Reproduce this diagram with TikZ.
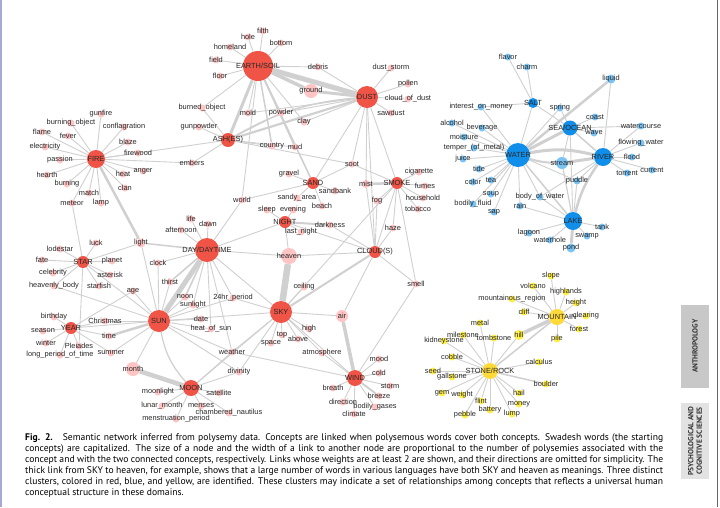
\documentclass[tikz,border=0pt]{standalone}
\usepackage{fontspec}
\setmainfont{Liberation Sans}
\newfontfamily\capfont{PT Sans}
\usepackage{xcolor}
\definecolor{hubred}{RGB}{240,84,70}
\definecolor{leafred}{RGB}{255,196,196}
\definecolor{hubblue}{RGB}{16,142,234}
\definecolor{leafblue}{RGB}{122,196,245}
\definecolor{hubyel}{RGB}{255,218,56}
\definecolor{leafyel}{RGB}{255,238,70}
\definecolor{linkgray}{RGB}{208,208,208}
\definecolor{labelgray}{RGB}{40,40,40}
\definecolor{tabdark}{RGB}{200,200,200}
\definecolor{tablight}{RGB}{226,226,226}
\definecolor{edgeline}{RGB}{168,168,214}
\usetikzlibrary{backgrounds}
\newcommand\nd[4]{\node[#1,label={[lbl]center:#4}] (#2) at (#3) {};}
\newcommand\capline[1]{\hbox to 638pt{#1}}

\begin{document}
\begin{tikzpicture}[x=1pt,y=-1pt,
  lbl/.style={font=\fontsize{7.4}{8}\selectfont,text=labelgray,inner sep=0pt},
  vtx/.style={circle,inner sep=0pt,minimum size=#1},
  rh/.style={vtx=#1,fill=hubred},   rh/.default=12,
  rl/.style={vtx=#1,fill=leafred},  rl/.default=7,
  bh/.style={vtx=#1,fill=hubblue},  bh/.default=12,
  bl/.style={vtx=#1,fill=leafblue}, bl/.default=7,
  yh/.style={vtx=#1,fill=hubyel},   yh/.default=16,
  yl/.style={vtx=#1,fill=leafyel},  yl/.default=7,
  link/.style={draw=linkgray,line width=0.9pt},
  capt/.style={inner sep=0pt,align=left,
               font=\capfont\fontsize{9.6}{11}\selectfont},
  tabbox/.style={rotate=90,inner sep=1pt,align=center,text=black!80,
                 font=\capfont\bfseries\fontsize{7.4}{8.4}\selectfont,
                 minimum height=28pt},
]
\useasboundingbox (0,0) rectangle (720,507);
\fill[edgeline] (0,0) rectangle (2,507);
\draw[black!60,line width=0.8pt] (717,0) -- (717,507);

%% red cluster: Swadesh concepts
\nd{rh=30}{earth}{258,66}{EARTH/SOIL}
\nd{rh=22}{dust}{367,97}{DUST}
\nd{rh=14}{ash}{228,140}{ASH(ES)}
\nd{rh=18}{fire}{96,159}{FIRE}
\nd{rh}{sand}{313,183}{SAND}
\nd{rh}{smoke}{397,183}{SMOKE}
\nd{rh}{night}{285,222}{NIGHT}
\nd{rh}{cloud}{375,252}{CLOUD(S)}
\nd{rh=24}{day}{207,250}{DAY/DAYTIME}
\nd{rh}{star}{83,262}{STAR}
\nd{rh=22}{sun}{159,321}{SUN}
\nd{rh}{year}{71,328}{YEAR}
\nd{rh=22}{sky}{281,312}{SKY}
\nd{rh=16}{moon}{191,388}{MOON}
\nd{rh=16}{wind}{355,378}{WIND}

%% red cluster: other concepts
\nd{rl}{filth}{263,31}{filth}
\nd{rl}{hole}{248,37}{hole}
\nd{rl}{bottom}{281,43}{bottom}
\nd{rl}{homeland}{230,47}{homeland}
\nd{rl}{field}{216,60}{field}
\nd{rl}{floor}{220,76}{floor}
\nd{rl}{debris}{318,67}{debris}
\nd{rl}{duststorm}{391,68}{dust\_storm}
\nd{rl}{pollen}{408,84}{pollen}
\nd{rl}{cloudofdust}{408,99}{cloud\_of\_dust}
\nd{rl}{sawdust}{391,113}{sawdust}
\nd{rl=14}{ground}{311,91}{ground}
\nd{rl}{mold}{248,113}{mold}
\nd{rl}{powder}{281,113}{powder}
\nd{rl}{clay}{304,122}{clay}
\nd{rl}{burnedobject}{202,108}{burned\_object}
\nd{rl}{gunpowder}{199,127}{gunpowder}
\nd{rl}{burningobject}{71,123}{burning\_object}
\nd{rl}{gunfire}{101,114}{gunfire}
\nd{rl}{conflagration}{124,127}{conflagration}
\nd{rl}{flame}{42,132}{flame}
\nd{rl}{fever}{68,136}{fever}
\nd{rl}{electricity}{45,147}{electricity}
\nd{rl}{blaze}{128,142}{blaze}
\nd{rl}{firewood}{138,153}{firewood}
\nd{rl}{passion}{60,160}{passion}
\nd{rl}{embers}{192,163}{embers}
\nd{rl}{hearth}{47,175}{hearth}
\nd{rl}{heat}{123,174}{heat}
\nd{rl}{anger}{143,171}{anger}
\nd{rl}{burning}{67,184}{burning}
\nd{rl}{clan}{125,188}{clan}
\nd{rl}{match}{89,193}{match}
\nd{rl}{meteor}{72,203}{meteor}
\nd{rl}{lamp}{101,203}{lamp}
\nd{rl}{country}{272,146}{country}
\nd{rl}{mud}{295,147}{mud}
\nd{rl}{soot}{352,164}{soot}
\nd{rl}{gravel}{289,174}{gravel}
\nd{rl}{sandbank}{335,191}{sandbank}
\nd{rl}{cigarette}{419,172}{cigarette}
\nd{rl}{fumes}{425,186}{fumes}
\nd{rl=8}{mist}{366,184}{mist}
\nd{rl}{household}{423,198}{household}
\nd{rl}{tobacco}{418,209}{tobacco}
\nd{rl}{fog}{377,201}{fog}
\nd{rl}{world}{242,200}{world}
\nd{rl}{sandyarea}{297,198}{sandy\_area}
\nd{rl}{beach}{322,206}{beach}
\nd{rl}{sleep}{267,210}{sleep}
\nd{rl}{evening}{293,210}{evening}
\nd{rl}{darkness}{330,225}{darkness}
\nd{rl}{lastnight}{301,232}{last\_night}
\nd{rl}{haze}{393,228}{haze}
\nd{rl=16}{heaven}{289,256}{heaven}
\nd{rl=9}{light}{141,243}{light}
\nd{rl}{life}{191,219}{life}
\nd{rl}{dawn}{208,224}{dawn}
\nd{rl}{afternoon}{181,230}{afternoon}
\nd{rl}{lodestar}{60,249}{lodestar}
\nd{rl}{luck}{96,243}{luck}
\nd{rl}{fate}{42,260}{fate}
\nd{rl}{planet}{112,261}{planet}
\nd{rl}{clock}{158,263}{clock}
\nd{rl}{celebrity}{53,273}{celebrity}
\nd{rl}{asterisk}{110,275}{asterisk}
\nd{rl}{heavenlybody}{54,286}{heavenly\_body}
\nd{rl}{starfish}{99,286}{starfish}
\nd{rl}{thirst}{170,282}{thirst}
\nd{rl}{age}{133,291}{age}
\nd{rl}{noon}{185,297}{noon}
\nd{rl}{sunlight}{193,305}{sunlight}
\nd{rl}{hrperiod}{233,298}{24hr\_period}
\nd{rl}{birthday}{54,317}{birthday}
\nd{rl}{christmas}{105,321}{Christmas}
\nd{rl}{date}{201,319}{date}
\nd{rl}{season}{43,331}{season}
\nd{rl}{heatofsun}{211,329}{heat\_of\_sun}
\nd{rl}{time}{109,336}{time}
\nd{rl}{winter}{46,343}{winter}
\nd{rl}{pleiades}{79,346}{Pleiades}
\nd{rl}{summer}{111,353}{summer}
\nd{rl}{longperiod}{60,355}{long\_period\_of\_time}
\nd{rl}{weather}{232,352}{weather}
\nd{rl=14}{month}{133,369}{month}
\nd{rl}{divinity}{239,372}{divinity}
\nd{rl}{moonlight}{158,392}{moonlight}
\nd{rl}{satellite}{219,393}{satellite}
\nd{rl}{lunarmonth}{162,406}{lunar\_month}
\nd{rl}{menses}{201,406}{menses}
\nd{rl}{nautilus}{229,413}{chambered\_nautilus}
\nd{rl}{menstruation}{176,419}{menstruation\_period}
\nd{rl}{ceiling}{304,287}{ceiling}
\nd{rl=12}{air}{342,316}{air}
\nd{rl}{smell}{416,284}{smell}
\nd{rl}{high}{309,329}{high}
\nd{rl}{top}{282,335}{top}
\nd{rl}{above}{298,339}{above}
\nd{rl}{space}{271,343}{space}
\nd{rl}{atmosphere}{322,353}{atmosphere}
\nd{rl}{mood}{379,359}{mood}
\nd{rl}{cold}{379,373}{cold}
\nd{rl}{storm}{390,386}{storm}
\nd{rl}{breath}{333,388}{breath}
\nd{rl}{breeze}{379,396}{breeze}
\nd{rl}{direction}{343,402}{direction}
\nd{rl}{bodilygases}{375,407}{bodily\_gases}
\nd{rl}{climate}{354,414}{climate}

%% blue cluster
\nd{bh=24}{water}{518,155}{WATER}
\nd{bh=15}{sea}{570,128}{SEA/OCEAN}
\nd{bh=18}{river}{603,157}{RIVER}
\nd{bh=18}{lake}{573,221}{LAKE}
\nd{bh=10}{salt}{533,103}{SALT}
\nd{bl}{flavor}{508,57}{flavor}
\nd{bl}{charm}{527,67}{charm}
\nd{bl=9}{liquid}{611,79}{liquid}
\nd{bl}{interest}{481,107}{interest\_on\_money}
\nd{bl}{spring}{560,108}{spring}
\nd{bl}{coast}{595,117}{coast}
\nd{bl}{alcohol}{452,123}{alcohol}
\nd{bl}{beverage}{482,128}{beverage}
\nd{bl}{watercourse}{641,126}{watercourse}
\nd{bl}{wave}{594,133}{wave}
\nd{bl}{moisture}{464,137}{moisture}
\nd{bl}{temper}{474,148}{temper\_(of\_metal)}
\nd{bl}{juice}{463,159}{juice}
\nd{bl}{flowingwater}{641,143}{flowing\_water}
\nd{bl}{flood}{632,157}{flood}
\nd{bl=12}{stream}{562,163}{stream}
\nd{bl}{tide}{479,169}{tide}
\nd{bl}{color}{473,182}{color}
\nd{bl}{tea}{491,180}{tea}
\nd{bl}{puddle}{577,181}{puddle}
\nd{bl}{torrent}{627,173}{torrent}
\nd{bl}{current}{652,170}{current}
\nd{bl}{soup}{491,194}{soup}
\nd{bl}{bodyofwater}{540,197}{body\_of\_water}
\nd{bl}{bodilyfluid}{473,204}{bodily\_fluid}
\nd{bl}{sap}{494,212}{sap}
\nd{bl}{rain}{520,206}{rain}
\nd{bl}{tank}{602,227}{tank}
\nd{bl}{lagoon}{529,233}{lagoon}
\nd{bl}{swamp}{587,236}{swamp}
\nd{bl}{waterhole}{550,240}{waterhole}
\nd{bl=9}{pond}{571,248}{pond}

%% yellow cluster
\nd{yh}{mountain}{557,317}{MOUNTAIN}
\nd{yh}{stone}{490,371}{STONE/ROCK}
\nd{yl}{slope}{551,276}{slope}
\nd{yl}{volcano}{533,286}{volcano}
\nd{yl}{highlands}{566,292}{highlands}
\nd{yl}{mountainous}{512,299}{mountainous\_region}
\nd{yl}{height}{576,303}{height}
\nd{yl}{cliff}{524,312}{cliff}
\nd{yl}{clearing}{586,316}{clearing}
\nd{yl}{forest}{579,329}{forest}
\nd{yl}{metal}{480,323}{metal}
\nd{yl}{milestone}{463,335}{milestone}
\nd{yl=10}{hill}{519,335}{hill}
\nd{yl}{tombstone}{494,338}{tombstone}
\nd{yl}{kidneystone}{444,341}{kidneystone}
\nd{yl}{pile}{557,339}{pile}
\nd{yl}{cobble}{452,357}{cobble}
\nd{yl}{calculus}{539,362}{calculus}
\nd{yl}{gallstone}{452,377}{gallstone}
\nd{yl}{seed}{433,371}{seed}
\nd{yl}{boulder}{546,384}{boulder}
\nd{yl}{gem}{442,393}{gem}
\nd{yl}{weight}{462,395}{weight}
\nd{yl}{hail}{519,393}{hail}
\nd{yl}{flint}{481,401}{flint}
\nd{yl}{money}{519,404}{money}
\nd{yl}{pebble}{465,415}{pebble}
\nd{yl}{battery}{490,410}{battery}
\nd{yl}{lump}{512,414}{lump}

%% links
\begin{scope}[on background layer]
  \fill[white] (2,0) rectangle (716,507);
  \foreach \b in {filth,hole,bottom,homeland,field,floor,debris,mold,powder,clay,burnedobject,world,sand}
    \draw[link] (earth) -- (\b);
  \foreach \b in {duststorm,pollen,cloudofdust,sawdust,debris,powder,clay,mold,sand,mist,smoke,cloud,soot}
    \draw[link] (dust) -- (\b);
  \foreach \b in {burnedobject,gunpowder,embers,soot,country,mud,powder}
    \draw[link] (ash) -- (\b);
  \foreach \b in {gunfire,burningobject,conflagration,flame,fever,electricity,blaze,firewood,passion,embers,hearth,heat,anger,burning,clan,match,meteor,lamp,ash}
    \draw[link] (fire) -- (\b);
  \foreach \b in {lodestar,luck,fate,planet,celebrity,asterisk,heavenlybody,starfish,pleiades,light,sun,meteor}
    \draw[link] (star) -- (\b);
  \foreach \b in {life,dawn,afternoon,clock,world,night,hrperiod,noon,sunlight,thirst,sky,weather,heaven,heatofsun}
    \draw[link] (day) -- (\b);
  \foreach \b in {thirst,noon,sunlight,date,heatofsun,summer,month,age,clock,light,weather,hrperiod,christmas,year,divinity,sky,heavenlybody}
    \draw[link] (sun) -- (\b);
  \foreach \b in {birthday,season,winter,pleiades,longperiod,summer,time,christmas,age}
    \draw[link] (year) -- (\b);
  \foreach \b in {moonlight,satellite,lunarmonth,menses,nautilus,menstruation,divinity,weather,sky}
    \draw[link] (moon) -- (\b);
  \foreach \b in {ceiling,high,top,above,space,atmosphere,weather,hrperiod,divinity,wind,smoke,air}
    \draw[link] (sky) -- (\b);
  \foreach \b in {mood,cold,storm,breath,direction,bodilygases,climate,weather,smell,atmosphere}
    \draw[link] (wind) -- (\b);
  \foreach \b in {heaven,fog,haze,mist,darkness,air,night,smell}
    \draw[link] (cloud) -- (\b);
  \foreach \b in {cigarette,fumes,household,tobacco,fog,haze,soot,cloud,smell}
    \draw[link] (smoke) -- (\b);
  \foreach \b in {gravel,sandbank,sandyarea,beach,world,soot}
    \draw[link] (sand) -- (\b);
  \foreach \b in {sleep,evening,lastnight,heaven}
    \draw[link] (night) -- (\b);
  \foreach \a/\b/\w in {earth/dust/5,earth/ground/3.5,dust/ground/3,earth/ash/3,ash/dust/2.2,
      earth/country/1.5,earth/mud/1.5,earth/sand/1.5,fire/light/2.5,day/sun/5,day/light/1.5,
      sun/time/2.5,month/moon/4.5,sky/heaven/6.5,air/wind/3.5,wind/breeze/2,sky/cloud/2,
      smoke/mist/2.5,night/darkness/2,day/thirst/1.5,day/noon/1.5}
    \draw[link,line width=\w pt] (\a) -- (\b);
  \draw[link,line width=1.5pt] (ash) to[bend left=12] (dust);
  \draw[link,line width=1.2pt] (sun) to[bend right=15] (moon);

  \foreach \b in {moisture,temper,juice,tide,color,tea,soup,bodilyfluid,sap,rain,bodyofwater,alcohol,beverage,interest,salt,puddle,spring}
    \draw[link] (water) -- (\b);
  \foreach \b in {coast,wave,spring,salt,watercourse,lake,stream}
    \draw[link] (sea) -- (\b);
  \foreach \b in {flowingwater,flood,torrent,current,watercourse,puddle,bodyofwater,liquid}
    \draw[link] (river) -- (\b);
  \foreach \b in {tank,lagoon,swamp,waterhole,bodyofwater,puddle,rain}
    \draw[link] (lake) -- (\b);
  \foreach \b in {flavor,charm,interest}
    \draw[link] (salt) -- (\b);
  \foreach \a/\b/\w in {water/sea/3,water/liquid/2.5,sea/river/1.5,river/stream/3,
      lake/pond/3,water/lake/1.5,lake/stream/1.2}
    \draw[link,line width=\w pt] (\a) -- (\b);
  \draw[link,line width=3pt] (water) to[bend left=12] (river);
  \draw[link,line width=2pt] (water) to[bend right=8] (stream);
  \draw[link,line width=2.5pt] (river) to[bend right=10] (lake);

  \foreach \b in {slope,volcano,highlands,mountainous,height,cliff,clearing,forest,pile}
    \draw[link] (mountain) -- (\b);
  \foreach \b in {metal,milestone,kidneystone,tombstone,hill,cobble,calculus,gallstone,seed,gem,weight,hail,flint,money,pebble,battery,lump}
    \draw[link] (stone) -- (\b);
  \draw[link,line width=3.5pt] (mountain) -- (hill);
  \draw[link,line width=1.5pt] (mountain) -- (stone);
  \draw[link,line width=1.5pt] (stone) -- (boulder);
\end{scope}

%% caption
\node[capt,anchor=north west] (caption) at (25,433) {%
\capline{\textbf{Fig. 2.}\hspace{0.5em} Semantic network inferred from polysemy data. Concepts are linked when polysemous words cover both concepts. Swadesh words (the starting}\\
\capline{concepts) are capitalized. The size of a node and the width of a link to another node are proportional to the number of polysemies associated with the}\\
\capline{concept and with the two connected concepts, respectively. Links whose weights are at least 2 are shown, and their directions are omitted for simplicity. The}\\
\capline{thick link from SKY to heaven, for example, shows that a large number of words in various languages have both SKY and heaven as meanings. Three distinct}\\
\capline{clusters, colored in red, blue, and yellow, are identified. These clusters may indicate a set of relationships among concepts that reflects a universal human}\\
conceptual structure in these domains.};

%% section tabs
\node[tabbox,fill=tabdark,minimum width=83pt] (anthro) at (695,346) {ANTHROPOLOGY};
\node[tabbox,fill=tablight,minimum width=76pt] (psych) at (695,441) {PSYCHOLOGICAL AND\\COGNITIVE SCIENCES};
\end{tikzpicture}
\end{document}
